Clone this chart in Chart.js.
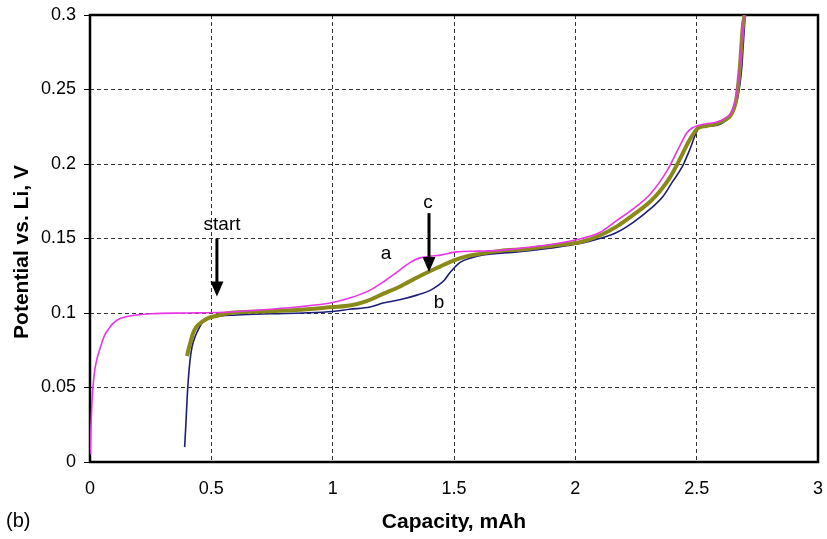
<!DOCTYPE html>
<html>
<head>
<meta charset="utf-8">
<script src="https://cdn.jsdelivr.net/npm/chart.js@4.4.0/dist/chart.umd.min.js"></script>
<style>
html, body { margin: 0; padding: 0; background: #fff; }
</style>
</head>
<body>
<canvas id="mycanvas" width="827" height="539"></canvas>
<script>
// curve a (magenta)
var aCapacity = [0, 0.003, 0.008, 0.012, 0.02, 0.03, 0.041, 0.06, 0.08, 0.095, 0.12, 0.165, 0.25, 0.4, 0.55, 0.7, 0.85, 1.0, 1.07, 1.15, 1.21, 1.27, 1.32, 1.36, 1.4, 1.45, 1.51, 1.6, 1.69, 1.8, 1.9, 2.0, 2.1, 2.17, 2.24, 2.31, 2.38, 2.43, 2.46, 2.48, 2.5, 2.54, 2.58, 2.62, 2.645, 2.66, 2.67, 2.68, 2.688, 2.695];
var aPotential = [0.005, 0.02, 0.04, 0.05, 0.062, 0.07, 0.076, 0.085, 0.09, 0.093, 0.096, 0.098, 0.0995, 0.1, 0.1005, 0.102, 0.104, 0.107, 0.11, 0.115, 0.121, 0.128, 0.134, 0.137, 0.138, 0.139, 0.141, 0.1415, 0.142, 0.144, 0.146, 0.149, 0.154, 0.162, 0.17, 0.18, 0.196, 0.212, 0.221, 0.224, 0.2255, 0.227, 0.228, 0.231, 0.235, 0.243, 0.255, 0.27, 0.287, 0.3];

// curve c (olive, thick)
var cCapacity = [0.4, 0.405, 0.415, 0.425, 0.44, 0.453, 0.47, 0.494, 0.53, 0.577, 0.7, 0.85, 1.0, 1.07, 1.14, 1.21, 1.28, 1.35, 1.4, 1.44, 1.48, 1.52, 1.55, 1.6, 1.69, 1.8, 1.9, 2.03, 2.1, 2.17, 2.24, 2.31, 2.35, 2.39, 2.43, 2.47, 2.505, 2.54, 2.58, 2.62, 2.645, 2.665, 2.678, 2.69, 2.697];
var cPotential = [0.071, 0.075, 0.081, 0.0866, 0.091, 0.093, 0.095, 0.097, 0.0985, 0.1, 0.101, 0.102, 0.104, 0.105, 0.108, 0.113, 0.118, 0.124, 0.128, 0.131, 0.134, 0.1365, 0.138, 0.1395, 0.1417, 0.143, 0.145, 0.148, 0.152, 0.158, 0.166, 0.175, 0.182, 0.191, 0.203, 0.216, 0.224, 0.2255, 0.227, 0.23, 0.234, 0.245, 0.265, 0.292, 0.3];

// curve b (navy)
var bCapacity = [0.39, 0.395, 0.4, 0.405, 0.412, 0.42, 0.433, 0.45, 0.466, 0.507, 0.605, 0.75, 0.878, 1.0, 1.07, 1.154, 1.207, 1.28, 1.347, 1.4, 1.43, 1.46, 1.483, 1.505, 1.525, 1.57, 1.62, 1.76, 1.895, 2.03, 2.1, 2.17, 2.24, 2.31, 2.36, 2.4, 2.44, 2.47, 2.51, 2.56, 2.6, 2.65, 2.67, 2.686, 2.692, 2.7];
var bPotential = [0.01, 0.025, 0.042, 0.055, 0.068, 0.077, 0.084, 0.09, 0.094, 0.097, 0.0987, 0.0995, 0.1, 0.101, 0.1025, 0.104, 0.1067, 0.109, 0.112, 0.115, 0.118, 0.122, 0.127, 0.131, 0.134, 0.137, 0.139, 0.141, 0.1435, 0.147, 0.15, 0.154, 0.161, 0.17, 0.178, 0.188, 0.198, 0.209, 0.224, 0.2255, 0.227, 0.235, 0.245, 0.265, 0.28, 0.3];

// text labels and arrows inside the plot (data units)
var noteText = ['start', 'c', 'a', 'b'];
var noteX = [0.544, 1.393, 1.22, 1.438];
var noteY = [0.159, 0.174, 0.14, 0.1067];
var arrowX = [0.523, 1.397];
var arrowFrom = [0.15, 0.167];
var arrowTo = [0.111, 0.1275];

function pts(xs, ys) {
    var out = [];
    for (var i = 0; i < xs.length; i++) out.push({x: xs[i], y: ys[i]});
    return out;
}

function plain(v) {
    return String(+Number(v).toFixed(3));
}

var FONT = '"Liberation Sans", Arial, sans-serif';

var extras = {
    id: 'extras',
    beforeDatasetsDraw: function(chart) {
        var ctx = chart.ctx, a = chart.chartArea;
        ctx.save();
        ctx.strokeStyle = '#000';
        ctx.lineWidth = 2.5;
        ctx.strokeRect(a.left, a.top, a.right - a.left, a.bottom - a.top);
        ctx.restore();
    },
    afterDatasetsDraw: function(chart) {
        var ctx = chart.ctx, xs = chart.scales.x, ys = chart.scales.y;
        ctx.save();
        ctx.fillStyle = '#000';
        ctx.font = '19px ' + FONT;
        ctx.textAlign = 'center';
        ctx.textBaseline = 'middle';
        for (var i = 0; i < noteText.length; i++) {
            ctx.fillText(noteText[i], xs.getPixelForValue(noteX[i]), ys.getPixelForValue(noteY[i]));
        }
        // arrows
        ctx.strokeStyle = '#000';
        ctx.lineWidth = 3;
        for (var j = 0; j < arrowX.length; j++) {
            var px = xs.getPixelForValue(arrowX[j]);
            var y0 = ys.getPixelForValue(arrowFrom[j]);
            var y1 = ys.getPixelForValue(arrowTo[j]);
            ctx.beginPath();
            ctx.moveTo(px, y0);
            ctx.lineTo(px, y1 - 12);
            ctx.stroke();
            ctx.beginPath();
            ctx.moveTo(px - 6.5, y1 - 15);
            ctx.lineTo(px + 6.5, y1 - 15);
            ctx.lineTo(px, y1);
            ctx.closePath();
            ctx.fill();
        }
        // y axis title
        ctx.font = 'bold 21px ' + FONT;
        ctx.translate(22, 252);
        ctx.rotate(-Math.PI / 2);
        ctx.fillText('Potential vs. Li, V', 0, 0);
        ctx.restore();

        ctx.save();
        ctx.font = '20px ' + FONT;
        ctx.fillStyle = '#000';
        ctx.textAlign = 'left';
        ctx.textBaseline = 'middle';
        ctx.fillText('(b)', 6, 521);
        ctx.restore();
    }
};

new Chart(document.getElementById('mycanvas'), {
    type: 'scatter',
    data: {
        datasets: [{
            label: 'a',
            data: pts(aCapacity, aPotential),
            borderColor: '#e935e6',
            borderWidth: 1.6,
            showLine: true,
            pointRadius: 0,
            cubicInterpolationMode: 'monotone'
        }, {
            label: 'c',
            data: pts(cCapacity, cPotential),
            borderColor: '#8a8a18',
            borderWidth: 4,
            showLine: true,
            pointRadius: 0,
            cubicInterpolationMode: 'monotone'
        }, {
            label: 'b',
            data: pts(bCapacity, bPotential),
            borderColor: '#1c1c7a',
            borderWidth: 1.6,
            showLine: true,
            pointRadius: 0,
            cubicInterpolationMode: 'monotone'
        }]
    },
    options: {
        responsive: false,
        animation: false,
        devicePixelRatio: 1,
        layout: { padding: { left: 0, right: 9, top: 15, bottom: 0 } },
        plugins: { legend: { display: false }, tooltip: { enabled: false } },
        scales: {
            x: {
                type: 'linear',
                min: 0,
                max: 3,
                afterFit: function(scale) {
                    scale.height = 77;
                    scale.paddingLeft = 0;
                    scale.paddingRight = 0;
                },
                ticks: { stepSize: 0.5, color: '#000', padding: 16, font: { family: FONT, size: 18 }, callback: plain },
                grid: { color: '#333', lineWidth: 1, drawTicks: false },
                border: { display: false, dash: [4, 3] },
                title: {
                    display: true,
                    text: 'Capacity, mAh',
                    color: '#000',
                    font: { family: FONT, size: 21, weight: 'bold' },
                    padding: { top: 0, bottom: 4 }
                }
            },
            y: {
                type: 'linear',
                min: 0,
                max: 0.3,
                afterFit: function(scale) {
                    scale.width = 90;
                    scale.paddingTop = 0;
                    scale.paddingBottom = 0;
                },
                ticks: { stepSize: 0.05, color: '#000', padding: 8, font: { family: FONT, size: 18 }, callback: plain },
                grid: { color: '#333', lineWidth: 1, tickLength: 6, tickColor: '#000', tickBorderDash: [] },
                border: { display: false, dash: [4, 3] }
            }
        }
    },
    plugins: [extras]
});
</script>
</body>
</html>
